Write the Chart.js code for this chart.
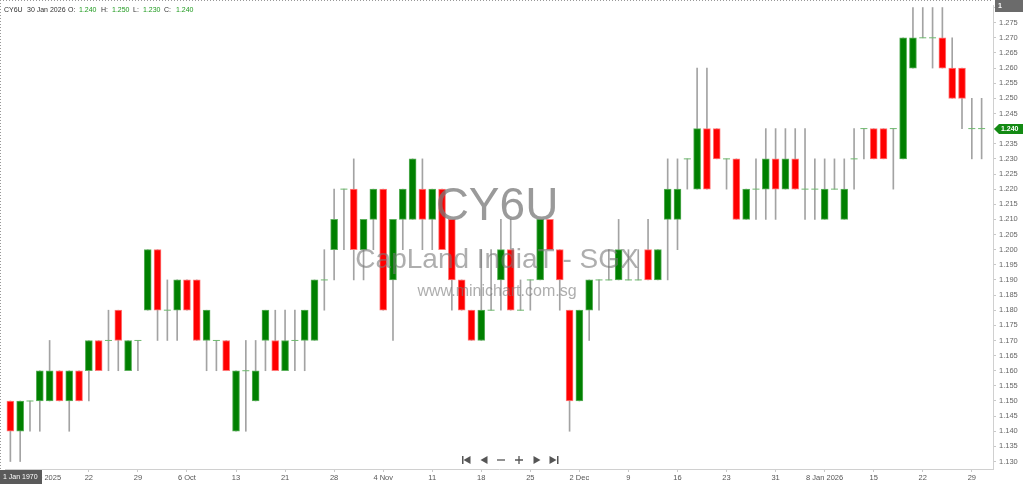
<!DOCTYPE html>
<html>
<head>
<meta charset="utf-8">
<script src="https://cdn.jsdelivr.net/npm/chart.js@4"></script>
<style>
html, body { margin: 0; padding: 0; background: #fff; }
</style>
</head>
<body>
<canvas id="chart" width="1024" height="484"></canvas>
<script>
const symbol = "CY6U";
const fullName = "CapLand IndiaT - SGX";
const site = "www.minichart.com.sg";
const lastDate = "30 Jan 2026";

const dates = [
  "2025-09-10","2025-09-11","2025-09-12",
  "2025-09-15","2025-09-16","2025-09-17","2025-09-18","2025-09-19",
  "2025-09-22","2025-09-23","2025-09-24","2025-09-25","2025-09-26",
  "2025-09-29","2025-09-30","2025-10-01","2025-10-02","2025-10-03",
  "2025-10-06","2025-10-07","2025-10-08","2025-10-09","2025-10-10",
  "2025-10-13","2025-10-14","2025-10-15","2025-10-16","2025-10-17",
  "2025-10-21","2025-10-22","2025-10-23","2025-10-24",
  "2025-10-27","2025-10-28","2025-10-29","2025-10-30","2025-10-31",
  "2025-11-03","2025-11-04","2025-11-05","2025-11-06","2025-11-07",
  "2025-11-10","2025-11-11","2025-11-12","2025-11-13","2025-11-14",
  "2025-11-17","2025-11-18","2025-11-19","2025-11-20","2025-11-21",
  "2025-11-24","2025-11-25","2025-11-26","2025-11-27","2025-11-28",
  "2025-12-01","2025-12-02","2025-12-03","2025-12-04","2025-12-05",
  "2025-12-08","2025-12-09","2025-12-10","2025-12-11","2025-12-12",
  "2025-12-15","2025-12-16","2025-12-17","2025-12-18","2025-12-19",
  "2025-12-22","2025-12-23","2025-12-24","2025-12-26",
  "2025-12-29","2025-12-30","2025-12-31","2026-01-02",
  "2026-01-05","2026-01-06","2026-01-07","2026-01-08","2026-01-09",
  "2026-01-12","2026-01-13","2026-01-14","2026-01-15","2026-01-16",
  "2026-01-19","2026-01-20","2026-01-21","2026-01-22","2026-01-23",
  "2026-01-26","2026-01-27","2026-01-28","2026-01-29","2026-01-30"
];

const open = [
  1.15,1.14,1.15,1.15,1.15,1.16,1.15,1.16,1.16,1.17,
  1.17,1.18,1.16,1.17,1.18,1.20,1.18,1.18,1.19,1.19,
  1.17,1.17,1.17,1.14,1.16,1.15,1.17,1.17,1.16,1.17,
  1.17,1.17,1.19,1.20,1.22,1.22,1.20,1.21,1.22,1.19,
  1.21,1.21,1.22,1.21,1.22,1.21,1.19,1.18,1.17,1.18,
  1.19,1.20,1.18,1.19,1.19,1.21,1.20,1.18,1.15,1.18,
  1.19,1.19,1.19,1.19,1.19,1.20,1.19,1.21,1.21,1.23,
  1.22,1.24,1.24,1.23,1.23,1.21,1.22,1.22,1.23,1.22,
  1.23,1.22,1.22,1.21,1.22,1.21,1.23,1.24,1.24,1.24,
  1.24,1.23,1.26,1.27,1.27,1.27,1.26,1.26,1.24,1.24
];
const high = [
  1.15,1.15,1.15,1.16,1.17,1.16,1.16,1.16,1.17,1.17,
  1.18,1.18,1.17,1.17,1.20,1.20,1.19,1.19,1.19,1.19,
  1.18,1.17,1.17,1.16,1.17,1.17,1.18,1.18,1.18,1.18,
  1.18,1.19,1.20,1.22,1.22,1.23,1.21,1.22,1.22,1.21,
  1.22,1.23,1.23,1.22,1.22,1.21,1.19,1.18,1.20,1.20,
  1.21,1.21,1.19,1.19,1.21,1.21,1.20,1.18,1.18,1.19,
  1.19,1.20,1.21,1.20,1.20,1.21,1.20,1.23,1.23,1.23,
  1.26,1.26,1.24,1.23,1.23,1.22,1.23,1.24,1.24,1.24,
  1.24,1.24,1.23,1.23,1.23,1.23,1.24,1.24,1.24,1.24,
  1.24,1.27,1.28,1.28,1.28,1.28,1.27,1.26,1.25,1.25
];
const low = [
  1.13,1.13,1.14,1.14,1.15,1.15,1.14,1.15,1.15,1.16,
  1.16,1.16,1.16,1.16,1.18,1.17,1.17,1.17,1.18,1.17,
  1.16,1.16,1.16,1.14,1.14,1.15,1.16,1.16,1.16,1.16,
  1.16,1.17,1.18,1.19,1.20,1.19,1.19,1.20,1.18,1.17,
  1.20,1.21,1.20,1.20,1.20,1.18,1.18,1.17,1.17,1.18,
  1.18,1.18,1.18,1.18,1.19,1.20,1.18,1.14,1.15,1.17,
  1.18,1.19,1.19,1.19,1.19,1.19,1.19,1.19,1.20,1.22,
  1.22,1.22,1.23,1.22,1.21,1.21,1.21,1.21,1.21,1.22,
  1.22,1.21,1.21,1.21,1.22,1.21,1.22,1.23,1.23,1.23,
  1.22,1.23,1.26,1.27,1.26,1.26,1.25,1.24,1.23,1.23
];
const close = [
  1.14,1.15,1.15,1.16,1.16,1.15,1.16,1.15,1.17,1.16,
  1.17,1.17,1.17,1.17,1.20,1.18,1.18,1.19,1.18,1.17,
  1.18,1.17,1.16,1.16,1.16,1.16,1.18,1.16,1.17,1.17,
  1.18,1.19,1.19,1.21,1.22,1.20,1.21,1.22,1.18,1.21,
  1.22,1.23,1.21,1.22,1.20,1.19,1.18,1.17,1.18,1.18,
  1.20,1.18,1.18,1.19,1.21,1.20,1.19,1.15,1.18,1.19,
  1.19,1.19,1.20,1.19,1.19,1.19,1.20,1.22,1.22,1.23,
  1.24,1.22,1.23,1.23,1.21,1.22,1.22,1.23,1.22,1.23,
  1.22,1.22,1.22,1.22,1.22,1.22,1.23,1.24,1.23,1.23,
  1.24,1.27,1.27,1.27,1.27,1.26,1.25,1.25,1.24,1.24
];

const tickText = {
  "2025-09-15": "15 Sep 2025", "2025-09-22": "22", "2025-09-29": "29",
  "2025-10-06": "6 Oct", "2025-10-13": "13", "2025-10-21": "21", "2025-10-28": "28",
  "2025-11-04": "4 Nov", "2025-11-11": "11", "2025-11-18": "18", "2025-11-25": "25",
  "2025-12-02": "2 Dec", "2025-12-09": "9", "2025-12-16": "16", "2025-12-23": "23",
  "2025-12-31": "31", "2026-01-08": "8 Jan 2026", "2026-01-15": "15",
  "2026-01-22": "22", "2026-01-29": "29"
};

const UP = "rgb(0,128,0)";
const DOWN = "rgb(255,0,0)";
const FONT = "'Liberation Sans', Arial, sans-serif";

const idx = dates.map((d, i) => i);
const bodies = idx.filter(i => open[i] !== close[i]).map(i => ({ x: i, y: [open[i], close[i]] }));
const wicks = idx.filter(i => high[i] > low[i]).map(i => ({ x: i, y: [low[i], high[i]] }));
const dojis = idx.filter(i => open[i] === close[i]).map(i => ({ x: i, y: open[i] }));
const tickIdx = idx.filter(i => tickText[dates[i]]);

function fmt(v) { return v.toFixed(3); }

function noPad(s) {
  s.paddingTop = 0; s.paddingBottom = 0; s.paddingLeft = 0; s.paddingRight = 0;
}

const extras = {
  id: "extras",
  beforeDraw(chart) {
    const c = chart.ctx;
    c.save();
    c.fillStyle = "#fff";
    c.fillRect(0, 0, chart.width, chart.height);
    c.restore();
  },
  afterDatasetsDraw(chart) {
    const c = chart.ctx;
    const cx = 497;
    c.save();
    c.textAlign = "center";
    c.textBaseline = "alphabetic";
    c.fillStyle = "rgba(120,120,120,0.75)";
    c.font = "46px " + FONT;
    c.fillText(symbol, cx, 220);
    c.font = "28px " + FONT;
    c.fillStyle = "rgba(120,120,120,0.6)";
    c.fillText(fullName, cx, 268);
    c.font = "16px " + FONT;
    c.fillText(site, cx, 296);
    c.restore();
  },
  afterDraw(chart) {
    const c = chart.ctx;
    const a = chart.chartArea;
    const y = chart.scales.y;
    c.save();
    // dotted frame
    c.strokeStyle = "#999";
    c.lineWidth = 1;
    c.setLineDash([1, 2]);
    c.beginPath();
    c.moveTo(0, 0.5); c.lineTo(a.right, 0.5);
    c.moveTo(0.5, 0); c.lineTo(0.5, a.bottom);
    c.stroke();
    c.setLineDash([]);

    // header
    c.font = "7px " + FONT;
    c.textBaseline = "middle";
    c.textAlign = "left";
    const last = close.length - 1;
    const parts = [
      [symbol, 4, "#333"], [lastDate, 27, "#333"],
      ["O:", 68, "#333"], [fmt(open[last]), 79, "#1f9a1f"],
      ["H:", 101, "#333"], [fmt(high[last]), 112, "#1f9a1f"],
      ["L:", 133, "#333"], [fmt(low[last]), 143, "#1f9a1f"],
      ["C:", 164, "#333"], [fmt(close[last]), 176, "#1f9a1f"]
    ];
    parts.forEach(p => { c.fillStyle = p[2]; c.fillText(p[0], p[1], 10.5); });

    // "1" box top right
    c.fillStyle = "#6b6b6b";
    c.fillRect(995, 0, 28, 12);
    c.fillStyle = "#fff";
    c.font = "bold 7px " + FONT;
    c.fillText("1", 998, 6.5);

    // last price tag
    const py = Math.round(y.getPixelForValue(close[last]));
    c.fillStyle = "#138a13";
    c.beginPath();
    c.moveTo(994, py);
    c.lineTo(999, py - 5);
    c.lineTo(1023, py - 5);
    c.lineTo(1023, py + 5);
    c.lineTo(999, py + 5);
    c.closePath();
    c.fill();
    c.fillStyle = "#fff";
    c.font = "bold 7px " + FONT;
    c.fillText(fmt(close[last]), 1001, py + 0.5);

    // date box bottom left
    c.fillStyle = "#5a5a5a";
    c.fillRect(0, 470, 42, 14);
    c.fillStyle = "#fff";
    c.font = "7px " + FONT;
    c.fillText("1 Jan 1970", 3, 477);

    // navigation buttons
    const ny = 460;
    c.fillStyle = "#555";
    c.strokeStyle = "#555";
    c.lineWidth = 1.3;
    const tri = (x, dir) => {
      c.beginPath();
      c.moveTo(x + dir * 3.5, ny - 4);
      c.lineTo(x + dir * 3.5, ny + 4);
      c.lineTo(x - dir * 3.5, ny);
      c.closePath();
      c.fill();
    };
    c.fillRect(462, ny - 4, 1.5, 8); tri(467, 1);
    tri(484, 1);
    c.beginPath(); c.moveTo(497, ny); c.lineTo(505, ny); c.stroke();
    c.beginPath(); c.moveTo(515, ny); c.lineTo(523, ny); c.moveTo(519, ny - 4); c.lineTo(519, ny + 4); c.stroke();
    tri(537, -1);
    tri(553, -1); c.fillRect(557, ny - 4, 1.5, 8);
    c.restore();
  }
};

const ctx = document.getElementById("chart").getContext("2d");
const myChart = new Chart(ctx, {
  type: "bar",
  data: {
    datasets: [
      {
        label: "body",
        data: bodies,
        grouped: false,
        barThickness: 7,
        order: 1,
        borderSkipped: false,
        borderWidth: 1,
        backgroundColor: c => (c.raw && c.raw.y[1] > c.raw.y[0]) ? UP : DOWN,
        borderColor: c => (c.raw && c.raw.y[1] > c.raw.y[0]) ? "rgb(90,175,90)" : "rgb(255,120,120)"
      },
      {
        label: "wick",
        data: wicks,
        grouped: false,
        barThickness: 1,
        order: 3,
        borderWidth: 0,
        backgroundColor: "#a3a3a3"
      },
      {
        type: "line",
        label: "doji",
        data: dojis,
        showLine: false,
        order: 0,
        pointStyle: "line",
        pointRadius: 3.5,
        pointBorderWidth: 1,
        pointBorderColor: "rgb(110,185,110)",
        pointBackgroundColor: "rgb(110,185,110)"
      }
    ]
  },
  options: {
    responsive: false,
    animation: false,
    layout: { padding: 0 },
    plugins: { legend: { display: false }, tooltip: { enabled: false } },
    scales: {
      x: {
        type: "linear",
        offset: false,
        min: -0.548,
        max: 100.16,
        afterFit: s => { s.height = 15; noPad(s); },
        afterBuildTicks: s => { s.ticks = tickIdx.map(v => ({ value: v })); },
        ticks: {
          autoSkip: false,
          maxRotation: 0,
          minRotation: 0,
          padding: 1,
          color: "#555",
          font: { size: 7.5, family: FONT },
          callback: v => tickText[dates[v]] || ""
        },
        grid: { offset: false, drawOnChartArea: false, drawTicks: true, tickLength: 3, color: "#c8c8c8" },
        border: { display: true, color: "#d0d0d0" }
      },
      y: {
        position: "right",
        min: 1.12753,
        max: 1.28084,
        afterFit: s => { s.width = 31; noPad(s); },
        ticks: {
          stepSize: 0.005,
          includeBounds: false,
          autoSkip: false,
          padding: 3,
          color: "#666",
          font: { size: 7.5, family: FONT },
          callback: v => fmt(v)
        },
        grid: { drawOnChartArea: false, drawTicks: true, tickLength: 3, color: "#c8c8c8" },
        border: { display: true, color: "#d0d0d0" }
      }
    }
  },
  plugins: [extras]
});
</script>
</body>
</html>
